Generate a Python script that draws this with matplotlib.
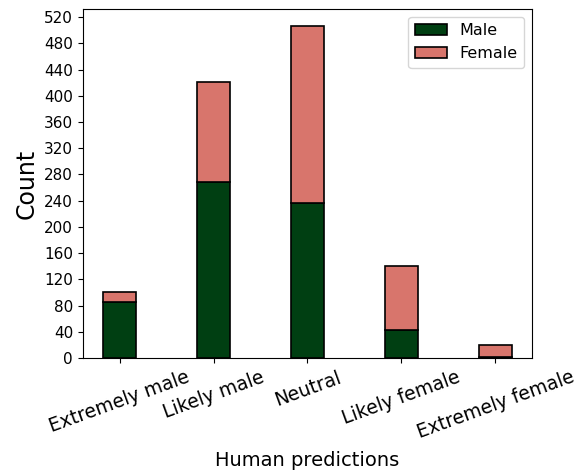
import matplotlib
matplotlib.use("Agg")
import matplotlib.pyplot as plt
import numpy as np

categories = ["Extremely male", "Likely male", "Neutral", "Likely female", "Extremely female"]
male_counts = [85, 268, 236, 43, 2]
female_counts = [15, 153, 271, 97, 18]

male_color = "#003f12"
female_color = "#d8756c"


def plot():
    fig = plt.figure(figsize=(5.79, 4.73), dpi=100)
    ax = fig.add_axes([0.143, 0.243, 0.776, 0.738])
    x = np.arange(len(categories))
    width = 0.35
    ax.bar(x, male_counts, width, color=male_color, edgecolor="black",
           linewidth=1.2, label="Male")
    ax.bar(x, female_counts, width, bottom=male_counts, color=female_color,
           edgecolor="black", linewidth=1.2, label="Female")
    ax.set_xticks(x)
    ax.set_xticklabels(categories, rotation=20, fontsize=13.5)
    ax.set_yticks(np.arange(0, 521, 40))
    ax.tick_params(axis="y", labelsize=11)
    ax.set_ylabel("Count", fontsize=17)
    ax.set_xlabel("Human predictions", fontsize=14, labelpad=6)
    ax.legend(fontsize=11.5, loc="upper right")
    fig.savefig("out.png", dpi=100)


if __name__ == "__main__":
    plot()
